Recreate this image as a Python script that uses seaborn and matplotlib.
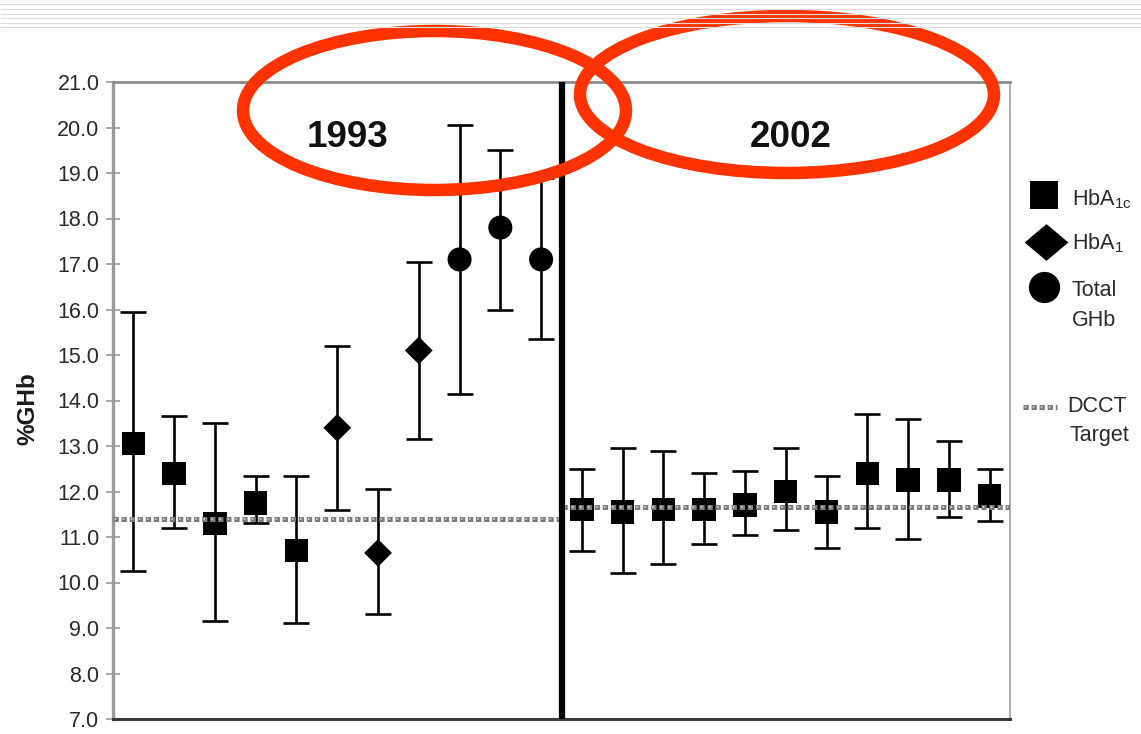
import matplotlib
matplotlib.use("Agg")
import matplotlib.pyplot as plt
from matplotlib.patches import Ellipse
import numpy as np
import pandas as pd
import seaborn as sns

# 1993 survey: assay type, mean %GHb and range (low / high)
assay_1993 = ["HbA1c", "HbA1c", "HbA1c", "HbA1c", "HbA1c",
              "HbA1", "HbA1", "HbA1",
              "Total GHb", "Total GHb", "Total GHb"]
mean_1993 = [13.05, 12.4, 11.3, 11.75, 10.7, 13.4, 10.65, 15.1, 17.1, 17.8, 17.1]
high_1993 = [15.95, 13.65, 13.5, 12.35, 12.35, 15.2, 12.05, 17.05, 20.05, 19.5, 18.9]
low_1993 = [10.25, 11.2, 9.15, 11.3, 9.1, 11.6, 9.3, 13.15, 14.15, 16.0, 15.35]
target_1993 = 11.4

# 2002 survey
assay_2002 = ["HbA1c"] * 11
mean_2002 = [11.6, 11.55, 11.6, 11.6, 11.7, 12.0, 11.55, 12.4, 12.25, 12.25, 11.9]
high_2002 = [12.5, 12.95, 12.9, 12.4, 12.45, 12.95, 12.35, 13.7, 13.6, 13.1, 12.5]
low_2002 = [10.7, 10.2, 10.4, 10.85, 11.05, 11.15, 10.75, 11.2, 10.95, 11.45, 11.35]
target_2002 = 11.65

years = ["1993", "2002"]
y_ticks = [7.0, 8.0, 9.0, 10.0, 11.0, 12.0, 13.0, 14.0, 15.0, 16.0, 17.0, 18.0, 19.0, 20.0, 21.0]

frames = []
for k, (assay, mean, high, low) in enumerate(
    [(assay_1993, mean_1993, high_1993, low_1993),
     (assay_2002, mean_2002, high_2002, low_2002)]
):
    frames.append(pd.DataFrame({
        "year": years[k], "assay": assay, "mean": mean, "high": high, "low": low,
        "pos": np.arange(len(mean)) + 0.5 + k * len(mean),
    }))
df = pd.concat(frames, ignore_index=True)
n_per_year = len(mean_1993)

sns.set_theme(style="white")
plt.rcParams["font.family"] = ["Liberation Sans", "DejaVu Sans"]
plt.rcParams["mathtext.fontset"] = "custom"
plt.rcParams["mathtext.rm"] = "Liberation Sans"
plt.rcParams["lines.scale_dashes"] = False

W, H = 1141, 734
fig = plt.figure(figsize=(W / 100, H / 100), dpi=100, facecolor="white")
ax = fig.add_axes([113 / W, 15 / H, 897 / W, 637 / H])

ink = "black"
text_col = "#2a2a2a"
dot_dark = "#7c7c7c"
dot_light = "#dedede"
red = "#ff3300"


def target_line(axis, xs, ys):
    axis.plot(xs, ys, color=dot_dark, lw=3.6, ls=(0, (3.8, 2.0)),
              dash_capstyle="butt", zorder=4)
    axis.plot(xs, ys, color=dot_light, lw=1.1, ls=(4.6, (1.2, 4.6)),
              dash_capstyle="butt", zorder=4.1)


# error bars (range)
ax.errorbar(df["pos"], df["mean"],
            yerr=[df["mean"] - df["low"], df["high"] - df["mean"]],
            fmt="none", ecolor=ink, elinewidth=1.9, capsize=9.5, capthick=1.9,
            zorder=2)

# markers by assay
sns.scatterplot(data=df, x="pos", y="mean", style="assay", size="assay",
                markers={"HbA1c": "s", "HbA1": "D", "Total GHb": "o"},
                sizes={"HbA1c": 285, "HbA1": 200, "Total GHb": 300},
                color=ink, linewidth=0, legend=False, ax=ax, zorder=3)

# DCCT target per survey
for k, t in enumerate([target_1993, target_2002]):
    target_line(ax, [k * n_per_year, (k + 1) * n_per_year], [t, t])

ax.axvline(n_per_year, color=ink, lw=4.5, zorder=5)

ax.set_xlim(0, 2 * n_per_year)
ax.set_ylim(y_ticks[0], y_ticks[-1])
ax.set_yticks(y_ticks)
ax.set_yticklabels([f"{v:.1f}" for v in y_ticks])
ax.set_xticks([])
ax.set_xlabel("")
ax.tick_params(axis="y", left=True, direction="inout", length=9.5, width=1.2,
               color="#9a9a9a", labelsize=15.5, labelcolor=text_col, pad=5)

ax.spines["left"].set(color="#9a9a9a", linewidth=2.4)
ax.spines["top"].set(color="#8c8c8c", linewidth=2.0)
ax.spines["right"].set(color="#b0b0b0", linewidth=1.5)
ax.spines["bottom"].set(color="#3a3a3a", linewidth=2.2)

ax.set_ylabel("%GHb", fontsize=17.5, fontweight="bold", color="#1a1a1a")
ax.yaxis.set_label_coords(-0.082, 0.488)

ax.text(5.75, 19.58, years[0], ha="center", va="baseline", fontsize=26.5,
        fontweight="bold", color="#111111", zorder=6)
ax.text(16.63, 19.58, years[1], ha="center", va="baseline", fontsize=26.5,
        fontweight="bold", color="#111111", zorder=6)

# overlay in pixel coordinates: slide stripes, red circles, legend
ov = fig.add_axes([0, 0, 1, 1], zorder=10)
ov.set_xlim(0, W)
ov.set_ylim(H, 0)
ov.axis("off")
ov.patch.set_alpha(0)

ov.hlines([4.3, 9.0, 13.7, 18.3, 22.7, 27.3], 0, W, color="#dcdcdc", lw=0.8)

ov.add_patch(Ellipse((434.5, 110.5), 383, 159, fill=False, ec=red, lw=9))
ov.add_patch(Ellipse((787, 94.5), 414, 157, fill=False, ec=red, lw=9))

ov.plot(1044, 195, marker="s", ms=20, color=ink, mew=0)
ov.plot(1046, 241.5, marker=[(-1, 0), (0, 0.84), (1, 0), (0, -0.84), (-1, 0)],
        ms=31.5, color=ink, mew=0)
ov.plot(1044, 287, marker="o", ms=22.5, color=ink, mew=0)
target_line(ov, [1023, 1057], [407, 407])

leg_kw = dict(fontsize=15.5, color=text_col, ha="left", va="center")
ov.text(1072, 199, r"HbA$_{\rm 1c}$", **leg_kw)
ov.text(1072, 243, r"HbA$_{\rm 1}$", **leg_kw)
ov.text(1072, 291, "Total", **leg_kw)
ov.text(1072, 321, "GHb", **leg_kw)
ov.text(1067, 407, "DCCT", **leg_kw)
ov.text(1069, 436, "Target", **leg_kw)

fig.savefig("out.png", dpi=100, facecolor="white")
